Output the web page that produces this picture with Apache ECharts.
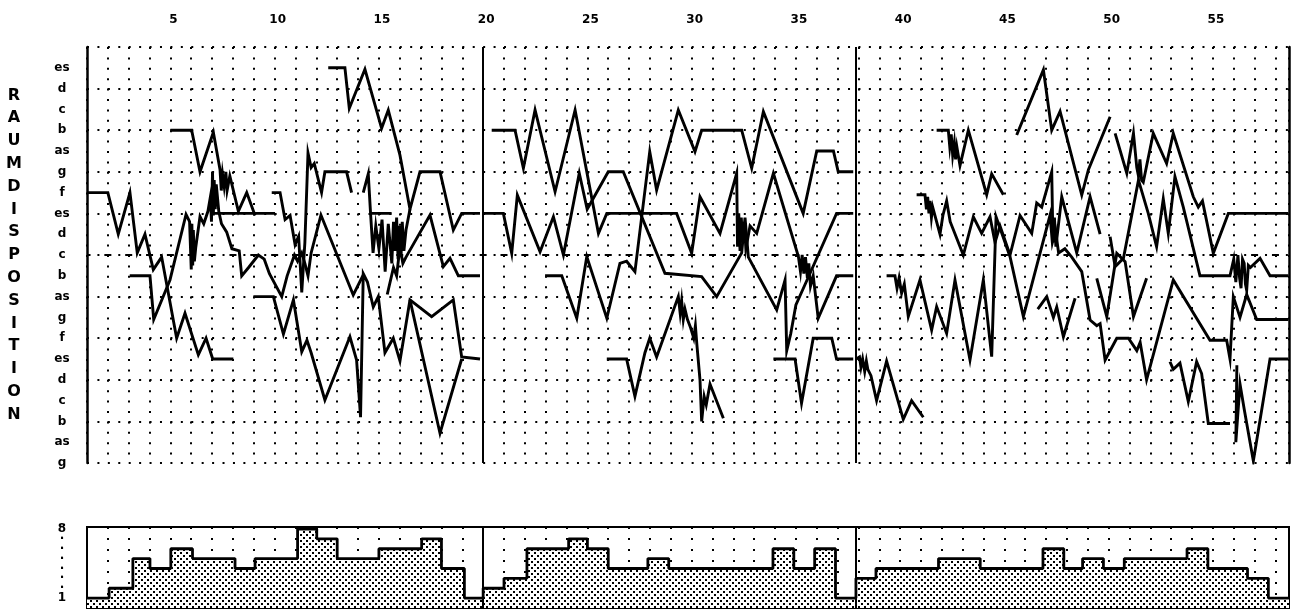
<!DOCTYPE html>
<html>
<head>
<meta charset="utf-8">
<script src="https://cdn.jsdelivr.net/npm/echarts@6.0.0/dist/echarts.min.js"></script>
<style>
  html, body { margin: 0; padding: 0; background: #fff; }
  #chart { width: 1295px; height: 610px; }
</style>
</head>
<body>
<div id="chart"></div>
<script>
// pitch names, level 0 = g (bottom) ... level 19 = es
const pitchNames = ['g', 'as', 'b', 'c', 'd', 'es', 'f', 'g', 'as', 'b', 'c', 'd', 'es', 'f', 'g', 'as', 'b', 'c', 'd', 'es'];
const measureTicks = [5, 10, 15, 20, 25, 30, 35, 40, 45, 50, 55];
const sectionBreaks = [20, 37.88];
const middleC = 10;

// voices, [measure, pitch level]
// section 1
const voiceA1 = [[1,13],[2,13],[2.5,11],[3.06,13],[3.41,10.1],[3.78,11],[4.18,9.3],[4.58,9.9],[5.3,6],[5.7,7.2],[6.34,5.2],[6.71,6],[7.03,5],[8.02,5]];
const voiceB1 = [[3.05,9],[4.02,9],[4.2,6.9],[4.98,8.8],[5.75,11.95],[5.92,11.6],[6,9.3],[6.03,11.5],[6.07,9.5],[6.1,11.2],[6.15,9.7],[6.22,10.4],[6.42,11.85],[6.6,11.5],[6.8,12.1],[6.92,12.8],[6.97,11.6],[7.02,14],[7.06,11.9],[7.1,13.6],[7.15,12.2],[7.2,13.4],[7.32,12.1],[7.45,11.5],[7.7,11.1],[7.95,10.3],[8.3,10.2],[8.42,9],[8.75,9.4],[9.22,10],[9.5,9.8],[9.75,9.1],[10.34,8],[10.6,9],[10.95,10],[11.1,9.7],[11.3,10.1],[11.45,9.6],[11.6,9],[11.75,10.1],[12.22,11.92],[13.77,8.08],[14.28,9.1]];
const voiceC1 = [[5,16],[6.02,16],[6.42,14],[7.06,15.9],[7.38,14.1],[7.44,13.1],[7.5,13.9],[7.58,13.3],[7.66,14],[7.72,13.1],[7.85,13.8],[8.26,12.1],[8.66,13],[9.06,11.9]];
const voiceD1 = [[6.9,12],[10.02,12]];
const voiceE1 = [[9.86,13],[10.26,13],[10.5,11.7],[10.74,11.9],[10.98,10.5],[11.15,10.9],[11.3,8.2],[11.45,10.6],[11.6,14.9],[11.75,14.2],[11.9,14.4],[12.25,13],[12.41,14],[13.45,14],[13.69,13]];
const voiceF1 = [[8.98,8],[9.94,8],[10.42,6.2],[10.9,7.85],[11.3,5.35],[11.55,5.9],[11.75,5.3],[12.41,3.03],[13.61,6.07],[13.93,4.95],[14.12,2.2],[14.25,9.1],[14.45,8.7],[14.73,7.5],[14.97,8],[15.29,5.3],[15.69,6],[16.01,4.9],[16.49,7.84],[17.53,7.04],[18.57,7.84],[18.97,5.1],[19.85,5]];
const voiceG1 = [[16.49,7.84],[17.93,1.43],[18.97,5]];
const voiceT1 = [[12.57,19],[13.37,19],[13.58,17.05],[14.33,18.93],[15.13,16.09],[15.45,16.97],[16.01,14.8],[16.49,12.2],[16.97,14],[17.93,14],[18.57,11.2],[18.97,12],[19.85,12]];
const voiceH1 = [[14.25,13],[14.49,13.9],[14.57,13.9],[14.6,12],[15.61,12]];
const voiceK1 = [[14.6,12],[14.72,10.1],[14.85,11.4],[15,10.3],[15.15,11.7],[15.3,9.2],[15.45,11.5],[15.62,9.6],[15.7,11.6],[15.78,10.2],[15.85,11.8],[15.92,9.8],[16,11.4],[16.06,10.1],[16.12,11.6],[16.2,10.2],[16.3,11.2],[16.49,12.2]];
const voiceI1 = [[15.4,8.1],[15.7,9.4],[15.85,9],[16.01,10.4],[16.15,9.6],[16.3,9.9],[17.45,11.92],[18.09,9.44],[18.41,9.84],[18.81,9],[19.85,9]];

// section 2
const voiceP2 = [[20.41,16],[21.53,16],[21.93,14.17],[22.49,16.97],[23.45,13.04],[24.41,16.97],[25.53,11.04],[25.93,12],[29.28,12],[30,10.08],[30.4,12.8],[31.36,11.04],[32.16,13.93],[32.2,10.4],[32.26,12],[32.32,10.2],[32.38,11.8],[32.45,10.6],[32.52,11.6],[32.6,10.3],[32.8,11.4],[33.12,11.04],[33.92,13.93],[35.12,9.92],[35.22,9.2],[35.3,10],[35.38,9.1],[35.46,9.9],[35.55,8.9],[35.62,9.6],[35.7,8.5],[35.83,9],[36.07,6.96],[36.95,9],[37.75,9]];
const voiceQ2 = [[20,12],[20.97,12],[21.37,10.08],[21.64,12.88],[22.73,10.16],[23.37,11.84],[23.85,10],[24.61,13.93],[24.99,12.2],[26,14],[26.72,14],[28.72,9.12],[30.48,8.96],[31.2,8],[32.4,10.1],[32.56,11.8],[32.72,9.9],[34.08,7.36],[34.48,8.8],[34.56,5.4],[34.75,6.2],[35,7.6],[35.67,9.1],[36.95,12],[37.75,12]];
const voiceR2 = [[22.97,9],[23.77,9],[24.49,6.96],[24.97,9.92],[25.93,6.96],[26.56,9.6],[26.88,9.7],[27.28,9.2],[27.99,14.97],[28.32,13.12],[29.36,16.97],[30.16,14.97],[30.48,16],[32.4,16],[32.88,14.17],[33.44,16.89],[35.35,12],[36,15],[36.8,15],[37.03,14],[37.75,14]];
const voiceW2 = [[25.93,5],[26.88,5],[27.28,3.2],[27.76,5.3],[27.99,6],[28.32,5.1],[29.36,8],[29.45,7.2],[29.52,7.8],[29.6,6.9],[29.68,7.4],[29.8,6.9],[29.95,6.5],[30.1,6],[30.18,6.6],[30.25,5.7],[30.4,4],[30.48,2],[30.6,3.2],[30.7,2.8],[30.88,3.8],[31.52,2.15]];
const voiceX2 = [[33.92,5],[34.96,5],[35.27,2.87],[35.83,6],[36.72,6],[36.95,5],[37.75,5]];

// section 3
const voiceA3 = [[37.9,5],[38.05,5.1],[38.12,4.6],[38.2,5],[38.3,4.4],[38.38,4.9],[38.45,4.5],[38.6,4.2],[38.87,3],[39.35,4.9],[40.15,2.1],[40.55,3],[41.11,2.2]];
const voiceB3 = [[41.75,16],[42.31,16],[42.38,15.2],[42.45,15.8],[42.52,14.8],[42.6,15.4],[42.66,14.6],[42.72,15.2],[42.87,14.3],[43.27,16],[44.15,12.9],[44.39,13.9],[44.95,12.9]];
const voiceC3 = [[40.79,12.9],[41.19,12.9],[41.26,12.2],[41.32,12.8],[41.38,12],[41.43,12.6],[41.5,11.8],[41.56,12.3],[41.91,11],[42.05,11.9],[42.23,12.6],[42.4,11.6],[43.03,10],[43.51,11.84],[43.91,11.04],[44.31,11.84],[44.55,10.6],[44.79,11.4],[45.27,10],[45.75,11.9],[46.31,11.04],[46.55,12.5],[46.79,12.3],[47.27,14],[47.33,10.6],[47.4,11.8],[47.47,10.4],[47.75,12.8],[48.47,10.1],[49.11,12.8],[49.59,11]];
const voiceD3 = [[39.35,9],[39.75,9],[39.85,8.4],[39.95,8.9],[40.07,8.16],[40.2,8.6],[40.39,7.04],[40.95,8.8],[41.51,6.39],[41.75,7.52],[42.23,6.23],[42.63,8.8],[43.35,4.95],[43.99,8.8],[44.39,5.11],[44.6,11.84],[45.27,9.92],[45.91,7.04],[47.19,11.92],[47.3,10.6],[47.45,11.2],[47.6,10.1],[47.9,10.3],[48.23,9.9],[48.71,9.2],[49.11,6.87],[49.43,6.6],[49.59,6.7],[49.83,4.95],[50.39,6],[50.95,6],[51.35,5.4],[51.51,5.8],[51.82,4],[52.3,5.8],[53.1,8.8],[54.86,5.9],[55.66,5.9],[55.82,5],[55.98,8],[56.3,7],[56.62,8.1],[57.1,6.9],[57.74,6.9],[58.62,6.9]];
const voiceE3 = [[45.59,15.77],[46.87,18.9],[47.27,16],[47.67,16.9],[48.71,12.88],[49.03,14.1],[50.07,16.65]];
const voiceF3 = [[50.31,15.85],[50.87,13.93],[51.19,15.85],[51.35,14.2],[51.43,13.8],[51.5,14.6],[51.58,13.6],[51.66,13.5],[52.14,15.85],[52.78,14.4],[53.1,15.85],[54.06,12.8],[54.3,12.3],[54.5,12.6],[55.02,10.08],[55.74,12],[58.62,12]];
const voiceG3 = [[46.6,7.4],[47.03,8],[47.35,7],[47.51,7.5],[47.83,6.07],[48.39,7.92]];
const voiceH3 = [[49.43,8.88],[49.91,7.04],[50.39,10.08],[50.79,9.68],[51.19,7.04],[51.82,8.88]];
const voiceI3 = [[50.07,10.88],[50.31,9.44],[50.71,9.84],[51.43,13.6],[51.9,12],[52.3,10.4],[52.62,12.7],[52.86,11.04],[53.18,13.77],[53.58,12.3],[54.38,9],[55.82,9],[56,9.8],[56.1,8.7],[56.2,10],[56.28,8.9],[56.35,8.4],[56.42,9.8],[56.5,9.6],[56.56,8.6],[56.62,8.3],[56.7,9.5],[56.8,9.4],[57.26,9.84],[57.74,9],[58.62,9]];
const voiceK3 = [[52.94,4.87],[53.1,4.5],[53.42,4.8],[53.82,2.95],[54.22,4.87],[54.46,4.3],[54.78,1.9],[55.82,1.9]];
const voiceL3 = [[56.15,4.7],[56.1,1],[56.3,3.8],[56.5,2.6],[56.94,0.1],[57.74,5],[58.62,5]];

// lower panel: number of sounding voices, step starts and counts
const densityStarts = [1, 2.06, 3.2, 4.02, 5.02, 6.06, 8.1, 9.06, 11.1, 12.02, 13, 15, 17.05, 18, 19.1, 20, 21, 22.1, 24.1, 25, 26, 27.9, 28.9, 33.9, 34.9, 35.9, 36.9, 37.88, 38.84, 41.84, 43.84, 46.85, 47.85, 48.75, 49.75, 50.75, 53.76, 54.76, 56.66, 57.66, 58.65];
const densityCounts = [1, 2, 5, 4, 6, 5, 4, 5, 8, 7, 5, 6, 7, 4, 1, 2, 3, 6, 7, 6, 4, 5, 4, 6, 4, 6, 1, 3, 4, 5, 4, 6, 4, 5, 4, 5, 6, 4, 3, 1, 1];

const voices = [voiceA1, voiceB1, voiceC1, voiceD1, voiceE1, voiceF1, voiceG1, voiceT1, voiceH1, voiceK1, voiceI1,
  voiceP2, voiceQ2, voiceR2, voiceW2, voiceX2,
  voiceA3, voiceB3, voiceC3, voiceD3, voiceE3, voiceF3, voiceG3, voiceH3, voiceI3, voiceK3, voiceL3];

const xMin = 1, xMax = 58.65;
const font = 'DejaVu Sans';

// stipple fill for the lower panel
const tile = document.createElement('canvas');
tile.width = 6; tile.height = 6;
const tctx = tile.getContext('2d');
tctx.fillStyle = '#fff'; tctx.fillRect(0, 0, 6, 6);
tctx.fillStyle = '#000'; tctx.fillRect(0, 0, 2, 2); tctx.fillRect(3, 3, 2, 2);

const chart = echarts.init(document.getElementById('chart'), null, { renderer: 'canvas' });

const dots = (period) => ({ color: '#000', width: 2, type: [2, period - 2] });
const labelFont = { color: '#000', fontFamily: font, fontWeight: 'bold', fontSize: 12 };

const series = voices.map((v, i) => ({
  type: 'line',
  xAxisIndex: 0,
  yAxisIndex: 0,
  data: v,
  showSymbol: false,
  symbol: 'none',
  silent: true,
  lineStyle: { color: '#000', width: 2.9, join: 'miter' },
  z: 3,
  markLine: i === 0 ? {
    symbol: ['none', 'none'],
    silent: true,
    label: { show: false },
    data: [
      { yAxis: middleC, lineStyle: { color: '#000', width: 2, type: [7, 13.85], dashOffset: 3.5 } },
      ...sectionBreaks.map(b => ({ xAxis: b, lineStyle: { color: '#000', width: 2, type: 'solid' } }))
    ]
  } : undefined
}));

series.push({
  type: 'line',
  xAxisIndex: 1,
  yAxisIndex: 2,
  step: 'end',
  data: densityStarts.map((x, i) => [x, densityCounts[i]]),
  showSymbol: false,
  symbol: 'none',
  silent: true,
  lineStyle: { color: '#000', width: 2.8 },
  areaStyle: { color: { image: tile, repeat: 'repeat' }, opacity: 1, origin: 'start' },
  z: 3,
  markLine: {
    symbol: ['none', 'none'],
    silent: true,
    label: { show: false },
    data: sectionBreaks.map(b => ({ xAxis: b, lineStyle: { color: '#000', width: 2, type: 'solid' } }))
  }
});

chart.setOption({
  animation: false,
  backgroundColor: '#fff',
  grid: [
    { left: 87, right: 6, top: 47, height: 416 },
    { left: 87, right: 6, top: 527, height: 81, show: true, borderColor: '#000', borderWidth: 2, backgroundColor: 'transparent' }
  ],
  xAxis: [
    {
      type: 'value', gridIndex: 0, position: 'top', min: xMin, max: xMax, interval: 1,
      axisLine: { show: false }, axisTick: { show: false },
      axisLabel: {
        ...labelFont, margin: 21, padding: [0, 0, 0, 6],
        showMinLabel: false, showMaxLabel: false,
        formatter: v => measureTicks.includes(v) ? String(v) : ''
      },
      splitLine: { show: true, lineStyle: dots(10.4) }
    },
    {
      type: 'value', gridIndex: 1, min: xMin, max: xMax, interval: 1,
      axisLine: { show: false }, axisTick: { show: false }, axisLabel: { show: false },
      splitLine: { show: true, lineStyle: dots(11) }
    }
  ],
  yAxis: [
    {
      type: 'value', gridIndex: 0, min: 0, max: 20, interval: 1,
      name: 'RAUMDISPOSITION'.split('').join('\n'),
      nameLocation: 'middle', nameRotate: 0, nameGap: 73,
      nameTextStyle: { color: '#000', fontFamily: font, fontWeight: 'bold', fontSize: 16, lineHeight: 22.8, align: 'center', verticalAlign: 'middle' },
      axisLine: { show: true, lineStyle: { color: '#000', width: 2.5 } },
      axisTick: { show: false },
      splitLine: { show: false },
      axisLabel: { ...labelFont, margin: 25, align: 'center', formatter: v => pitchNames[v] || '' }
    },
    {
      type: 'value', gridIndex: 0, min: 0, max: 20, interval: 2, position: 'right',
      axisLine: { show: true, lineStyle: { color: '#000', width: 2.5 } },
      axisTick: { show: false }, axisLabel: { show: false },
      splitLine: { show: true, lineStyle: dots(10.425) }
    },
    {
      type: 'value', gridIndex: 1, min: 0, max: 8.2, interval: 1,
      axisLine: { show: false }, axisTick: { show: false },
      splitLine: { show: false },
      axisLabel: {
        ...labelFont, margin: 25, align: 'center',
        formatter: v => v === 8 ? '8' : v === 1 ? '1' : (v >= 2 && v <= 7 ? '·' : '')
      }
    }
  ],
  series: series
});
</script>
</body>
</html>
